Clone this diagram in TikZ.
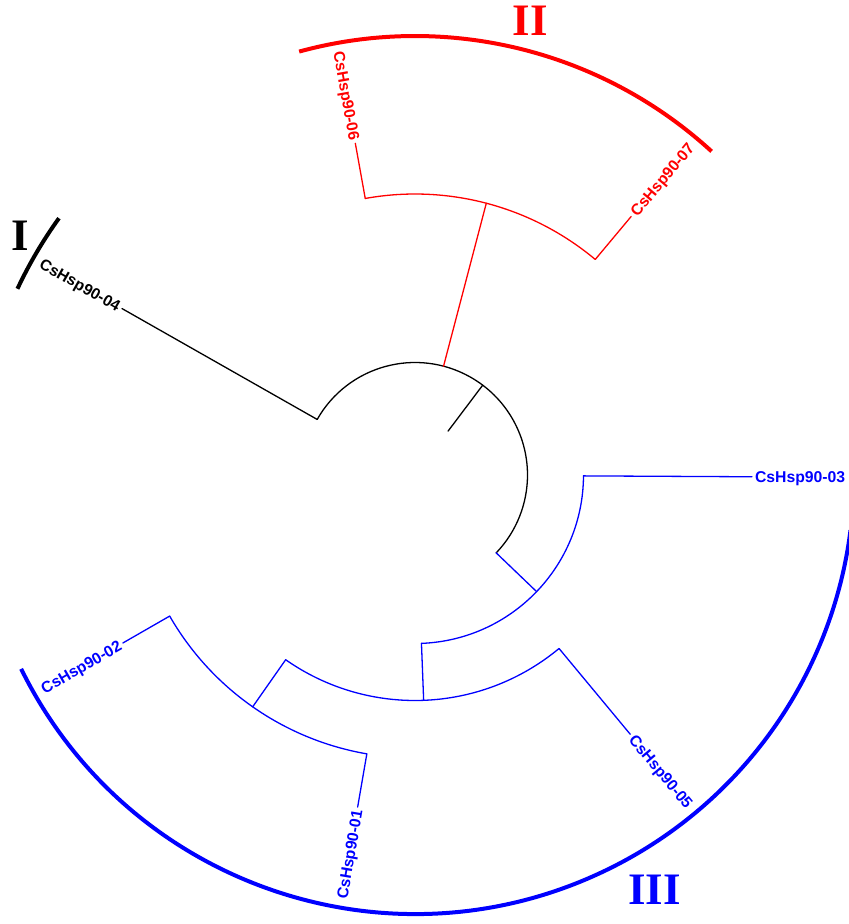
\documentclass[tikz,border=0pt]{standalone}
\usepackage{fontspec}
\setmainfont{Liberation Sans}
\newfontfamily\cladefont{Liberation Serif}
\definecolor{cladeII}{RGB}{255,0,0}
\definecolor{cladeIII}{RGB}{0,0,255}
\tikzset{
  br/.style={line width=1.3pt, line cap=round},
  cladebar/.style={line width=4pt},
  redc/.style={draw=cladeII, text=cladeII},
  bluec/.style={draw=cladeIII, text=cladeIII},
  leaf/.style={font=\bfseries\fontsize{15.7}{18}\selectfont, inner sep=0pt, text height=11.2pt, text depth=0pt},
  cladelab/.style={font=\cladefont\bfseries\fontsize{45}{50}\selectfont, inner sep=0pt, text height=29.8pt, text depth=0pt, anchor=center}
}
\begin{document}
\begin{tikzpicture}[x=1pt,y=1pt]
\useasboundingbox (0,0) rectangle (849,-924);
\begin{scope}[shift={(415,-475)}]
  % root
  \coordinate (R0) at (53:55pt);
  \coordinate (R1) at (53:112.5pt);
  \coordinate (A04) at (150.4:112.5pt);
  \coordinate (Ared) at (75.3:112.5pt);
  \coordinate (Ablue) at (-43.8:112.5pt);
  \draw[br] (R0) -- (R1);
  \draw[br] (A04) arc[start angle=150.4, end angle=-43.8, radius=112.5pt];
  % CsHsp90-04
  \coordinate (T04) at (150.4:337pt);
  \draw[br] (A04) -- (T04);
  \node[leaf, rotate=-29.6, anchor=east] (L04) at (150.4:340pt) {CsHsp90-04};
  % clade II
  \coordinate (Bred) at (75.3:281pt);
  \draw[br,redc] (Ared) -- (Bred);
  \coordinate (B06) at (100.2:281pt);
  \coordinate (B07) at (50.1:281pt);
  \draw[br,redc] (B06) arc[start angle=100.2, end angle=50.1, radius=281pt];
  \coordinate (T06) at (100.2:337pt);
  \coordinate (T07) at (50.1:337pt);
  \draw[br,redc] (B06) -- (T06);
  \draw[br,redc] (B07) -- (T07);
  \node[leaf, text=cladeII, rotate=-79.8, anchor=east] (L06) at (100.2:340pt) {CsHsp90-06};
  \node[leaf, text=cladeII, rotate=50.1, anchor=west] (L07) at (50.1:340pt) {CsHsp90-07};
  % clade III
  \coordinate (Bblue) at (-43.8:168.5pt);
  \draw[br,bluec] (Ablue) -- (Bblue);
  \coordinate (B03) at (-0.3:168.5pt);
  \coordinate (Bsub) at (-87.8:168.5pt);
  \draw[br,bluec] (B03) arc[start angle=-0.3, end angle=-87.8, radius=168.5pt];
  \coordinate (T03) at (-0.3:337pt);
  \draw[br,bluec] (B03) -- (T03);
  \node[leaf, text=cladeIII, rotate=-0.3, anchor=west] (L03) at (-0.3:340pt) {CsHsp90-03};
  \coordinate (Csub) at (-87.8:225.5pt);
  \draw[br,bluec] (Bsub) -- (Csub);
  \coordinate (C05) at (-50.3:225.5pt);
  \coordinate (Csub2) at (-125:225.5pt);
  \draw[br,bluec] (C05) arc[start angle=-50.3, end angle=-125, radius=225.5pt];
  \coordinate (T05) at (-50.3:337pt);
  \draw[br,bluec] (C05) -- (T05);
  \node[leaf, text=cladeIII, rotate=-50.3, anchor=west] (L05) at (-50.3:340pt) {CsHsp90-05};
  \coordinate (D2) at (-125:283pt);
  \draw[br,bluec] (Csub2) -- (D2);
  \coordinate (D01) at (-99.8:283pt);
  \coordinate (D02) at (-150.1:283pt);
  \draw[br,bluec] (D01) arc[start angle=-99.8, end angle=-150.1, radius=283pt];
  \coordinate (T01) at (-99.8:337pt);
  \coordinate (T02) at (-150.1:337pt);
  \draw[br,bluec] (D01) -- (T01);
  \draw[br,bluec] (D02) -- (T02);
  \node[leaf, text=cladeIII, rotate=80.2, anchor=east] (L01) at (-99.8:340pt) {CsHsp90-01};
  \node[leaf, text=cladeIII, rotate=29.9, anchor=east] (L02) at (-150.1:340pt) {CsHsp90-02};
  % clade bars
  \coordinate (KI) at (144.2:439pt);
  \coordinate (KII) at (105.3:439pt);
  \coordinate (KIII) at (-153.8:439pt);
  \draw[cladebar] (KI) arc[start angle=144.2, end angle=154.9, radius=439pt];
  \draw[cladebar,redc] (KII) arc[start angle=105.3, end angle=47.5, radius=439pt];
  \draw[cladebar,bluec] (KIII) arc[start angle=-153.8, end angle=-7.2, radius=439pt];
\end{scope}
\node[cladelab] (NI) at (20,-235.7) {I};
\node[cladelab, text=cladeII] (NII) at (530.5,-20.3) {II};
\node[cladelab, text=cladeIII] (NIII) at (654.5,-889.5) {III};
\end{tikzpicture}
\end{document}
